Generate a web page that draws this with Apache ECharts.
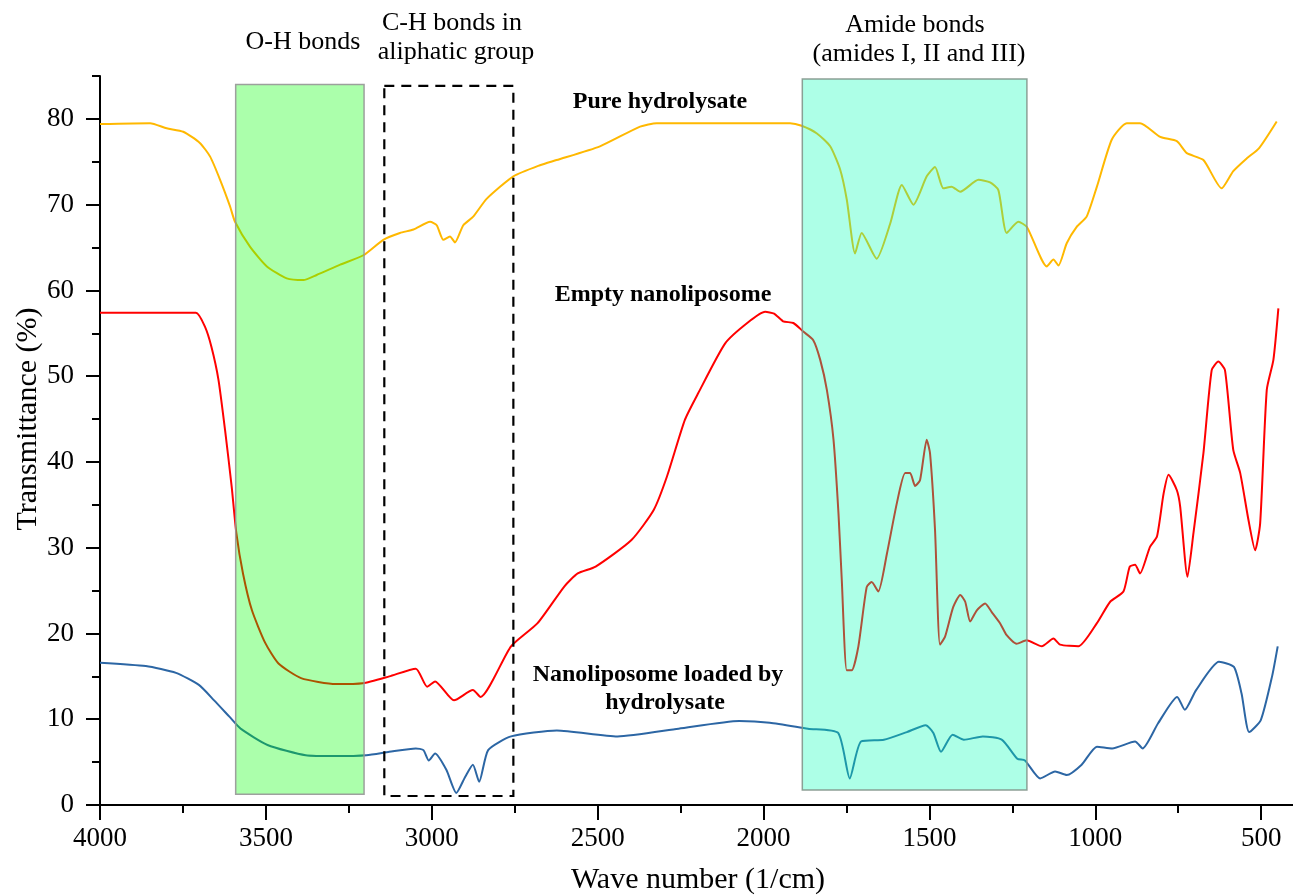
<!DOCTYPE html>
<html>
<head>
<meta charset="utf-8">
<title>FTIR spectra</title>
<script src="https://cdn.jsdelivr.net/npm/echarts@6/dist/echarts.min.js"></script>
<style>
  html, body { margin: 0; padding: 0; background: #fff; }
  #chart { width: 1293px; height: 896px; }
</style>
</head>
<body>
<div id="chart"></div>
<script>
// pure hydrolysate
var hydWave = [4000, 3849, 3799, 3749, 3699, 3668, 3638, 3608, 3593, 3548, 3497, 3437, 3387, 3347, 3276, 3206, 3146, 3096, 3055, 3005, 2985, 2965, 2945, 2930, 2905, 2875, 2834, 2754, 2674, 2624, 2493, 2372, 2322, 1920, 1885, 1839, 1799, 1769, 1749, 1724, 1704, 1659, 1618, 1583, 1548, 1508, 1483, 1458, 1433, 1407, 1352, 1317, 1292, 1267, 1232, 1206, 1146, 1126, 1111, 1086, 1056, 1026, 995, 950, 905, 865, 804, 754, 724, 674, 619, 584, 543, 506, 453];
var hydT = [79.4, 79.5, 78.9, 78.5, 77.2, 75.6, 72.9, 69.8, 68.0, 65.1, 62.8, 61.4, 61.2, 61.8, 63.0, 64.1, 65.9, 66.7, 67.1, 68.0, 67.6, 65.9, 66.3, 65.6, 67.6, 68.6, 70.7, 73.3, 74.6, 75.2, 76.8, 79.1, 79.5, 79.5, 79.2, 78.3, 76.8, 74.1, 70.6, 64.3, 66.7, 63.7, 67.8, 72.3, 70.0, 73.3, 74.4, 71.9, 72.1, 71.5, 72.9, 72.6, 71.7, 66.7, 68.0, 67.4, 62.8, 63.6, 62.9, 65.5, 67.4, 68.6, 72.1, 77.6, 79.5, 79.5, 77.9, 77.4, 76.0, 75.2, 71.9, 73.9, 75.4, 76.6, 79.7];

// empty nanoliposome
var emptyWave = [4000, 3711, 3684, 3664, 3643, 3623, 3603, 3589, 3569, 3542, 3502, 3462, 3394, 3289, 3208, 3128, 3048, 3014, 2990, 2933, 2876, 2853, 2761, 2681, 2600, 2560, 2506, 2398, 2331, 2291, 2237, 2197, 2116, 2049, 1995, 1968, 1941, 1910, 1880, 1850, 1829, 1809, 1789, 1774, 1764, 1749, 1734, 1714, 1689, 1674, 1654, 1628, 1598, 1573, 1558, 1543, 1528, 1508, 1498, 1483, 1468, 1453, 1428, 1407, 1392, 1377, 1357, 1332, 1312, 1287, 1267, 1237, 1207, 1161, 1126, 1106, 1051, 995, 955, 915, 896, 880, 865, 835, 814, 794, 779, 754, 744, 722, 704, 674, 649, 629, 609, 584, 563, 538, 518, 503, 483, 463, 448];
var emptyT = [57.4, 57.4, 55.8, 53.4, 49.6, 43.7, 37.1, 31.7, 27.0, 22.7, 18.9, 16.5, 14.8, 14.1, 14.2, 15.0, 15.9, 13.8, 14.4, 12.2, 13.4, 12.6, 18.5, 21.2, 25.5, 27.0, 27.8, 30.9, 34.4, 38.3, 44.9, 48.0, 53.8, 56.2, 57.5, 57.3, 56.4, 56.2, 55.2, 54.2, 51.9, 48.4, 42.6, 34.0, 26.2, 15.7, 15.7, 18.5, 25.4, 26.0, 24.9, 29.3, 35.2, 38.7, 38.7, 37.2, 37.9, 42.6, 41.0, 32.1, 18.7, 19.6, 23.1, 24.5, 23.7, 21.4, 22.7, 23.5, 22.5, 21.2, 19.8, 18.8, 19.2, 18.5, 19.4, 18.7, 18.5, 21.2, 23.7, 24.9, 27.8, 28.0, 27.0, 30.1, 31.3, 36.3, 38.5, 36.7, 34.8, 26.6, 31.7, 41.0, 50.7, 51.7, 50.7, 41.4, 38.7, 33.2, 29.7, 32.8, 48.4, 51.9, 57.9];

// nanoliposome loaded by hydrolysate
var loadedWave = [4000, 3862, 3771, 3702, 3656, 3610, 3576, 3495, 3380, 3289, 3197, 3128, 3048, 3025, 3009, 2990, 2956, 2926, 2899, 2876, 2857, 2830, 2761, 2623, 2440, 2256, 2073, 1981, 1866, 1775, 1740, 1706, 1637, 1568, 1511, 1488, 1465, 1430, 1396, 1339, 1281, 1235, 1212, 1166, 1121, 1086, 1041, 995, 949, 880, 857, 811, 753, 730, 696, 627, 582, 559, 536, 501, 467, 450];
var loadedT = [16.6, 16.2, 15.4, 14.0, 12.2, 10.3, 8.9, 7.0, 5.8, 5.7, 5.8, 6.2, 6.6, 6.4, 5.2, 6.0, 4.1, 1.4, 3.3, 4.7, 2.7, 6.4, 8.0, 8.7, 8.0, 8.9, 9.8, 9.6, 8.9, 8.4, 3.1, 7.4, 7.6, 8.5, 9.3, 8.4, 6.2, 8.2, 7.6, 8.0, 7.6, 5.4, 5.2, 3.1, 3.9, 3.5, 4.7, 6.8, 6.6, 7.4, 6.6, 9.5, 12.6, 11.1, 13.4, 16.7, 16.1, 13.0, 8.5, 9.9, 15.0, 18.5];

// highlighted bands: O-H, C-H (dashed), amides
var bandWaveFrom = [3591, 3143, 1883];
var bandWaveTo = [3204, 2754, 1206];
var bandTFrom = [1.25, 1.05, 1.75];
var bandTTo = [84.0, 83.85, 84.66];

var yMajorTicks = [0, 10, 20, 30, 40, 50, 60, 70, 80];

var FONT = 'Liberation Serif';

function zip(xs, ys) {
  return xs.map(function (x, i) { return [x, ys[i]]; });
}

var bandStyles = [
  { fill: 'rgba(0,255,0,0.33)', stroke: 'rgba(150,150,150,0.9)', lineWidth: 1.5 },
  { fill: 'none', stroke: '#000', lineWidth: 2.2, lineDash: [10, 7] },
  { fill: 'rgba(0,255,180,0.32)', stroke: 'rgba(130,150,140,0.9)', lineWidth: 1.5 }
];

var myChart = echarts.init(document.getElementById('chart'));

var lineBase = {
  type: 'line',
  showSymbol: false,
  smooth: 0.2,
  z: 2,
  animation: false
};

function txt(x, y, text, font) {
  return {
    type: 'text', x: x, y: y, z: 100,
    style: { text: text, font: font, fill: '#000', align: 'center', verticalAlign: 'middle' }
  };
}

myChart.setOption({
  animation: false,
  grid: { left: 100, top: 76, width: 1327, height: 729, containLabel: false, outerBoundsMode: 'none' },
  xAxis: {
    type: 'value',
    inverse: true,
    min: 0,
    max: 4000,
    interval: 500,
    axisLine: { onZero: false, lineStyle: { color: '#000', width: 2 } },
    axisTick: { length: 15, lineStyle: { color: '#000', width: 2 } },
    minorTick: { show: true, splitNumber: 2, length: 8, lineStyle: { color: '#000', width: 2 } },
    axisLabel: {
      fontFamily: FONT, fontSize: 27, color: '#000', margin: 20,
      formatter: function (v) { return String(v); }
    },
    splitLine: { show: false }
  },
  yAxis: [
    {
      type: 'value',
      position: 'left',
      min: 0,
      max: 85,
      interval: 5,
      axisLine: { show: true, onZero: false, lineStyle: { color: '#000', width: 2 } },
      axisTick: { show: true, length: 8, lineStyle: { color: '#000', width: 2 } },
      axisLabel: { show: false },
      splitLine: { show: false }
    },
    {
      type: 'value',
      position: 'left',
      min: 0,
      max: 85,
      interval: 10,
      axisLine: { show: false, onZero: false },
      axisTick: { show: true, length: 14, customValues: yMajorTicks, lineStyle: { color: '#000', width: 2 } },
      axisLabel: { fontFamily: FONT, fontSize: 27, color: '#000', margin: 26, customValues: yMajorTicks },
      splitLine: { show: false }
    }
  ],
  series: [
    Object.assign({}, lineBase, {
      name: 'Pure hydrolysate',
      data: zip(hydWave, hydT),
      lineStyle: { color: '#FFB800', width: 2 },
      itemStyle: { color: '#FFB800' }
    }),
    Object.assign({}, lineBase, {
      name: 'Empty nanoliposome',
      data: zip(emptyWave, emptyT),
      lineStyle: { color: '#FF0000', width: 2 },
      itemStyle: { color: '#FF0000' }
    }),
    Object.assign({}, lineBase, {
      name: 'Nanoliposome loaded by hydrolysate',
      data: zip(loadedWave, loadedT),
      lineStyle: { color: '#2C66A4', width: 2 },
      itemStyle: { color: '#2C66A4' }
    }),
    {
      type: 'custom',
      z: 5,
      clip: false,
      encode: { x: [0, 1], y: [2, 3] },
      data: bandWaveFrom.map(function (w, i) {
        return [w, bandWaveTo[i], bandTFrom[i], bandTTo[i]];
      }),
      renderItem: function (params, api) {
        var p1 = api.coord([api.value(0), api.value(2)]);
        var p2 = api.coord([api.value(1), api.value(3)]);
        return {
          type: 'rect',
          shape: {
            x: Math.min(p1[0], p2[0]),
            y: Math.min(p1[1], p2[1]),
            width: Math.abs(p2[0] - p1[0]),
            height: Math.abs(p2[1] - p1[1])
          },
          style: bandStyles[params.dataIndex]
        };
      }
    }
  ],
  graphic: [
    txt(303, 42, 'O-H bonds', '26px ' + FONT),
    txt(452, 23, 'C-H bonds in', '26px ' + FONT),
    txt(456, 52, 'aliphatic group', '26px ' + FONT),
    txt(915, 25, 'Amide bonds', '26px ' + FONT),
    txt(919, 54, '(amides I, II and III)', '26px ' + FONT),
    txt(660, 102, 'Pure hydrolysate', 'bold 24px ' + FONT),
    txt(663, 295, 'Empty nanoliposome', 'bold 24px ' + FONT),
    txt(658, 675, 'Nanoliposome loaded by', 'bold 24px ' + FONT),
    txt(665, 703, 'hydrolysate', 'bold 24px ' + FONT),
    txt(698, 880, 'Wave number (1/cm)', '30px ' + FONT),
    Object.assign(txt(28, 419, 'Transmittance (%)', '30px ' + FONT), { rotation: Math.PI / 2 })
  ]
});
</script>
</body>
</html>
